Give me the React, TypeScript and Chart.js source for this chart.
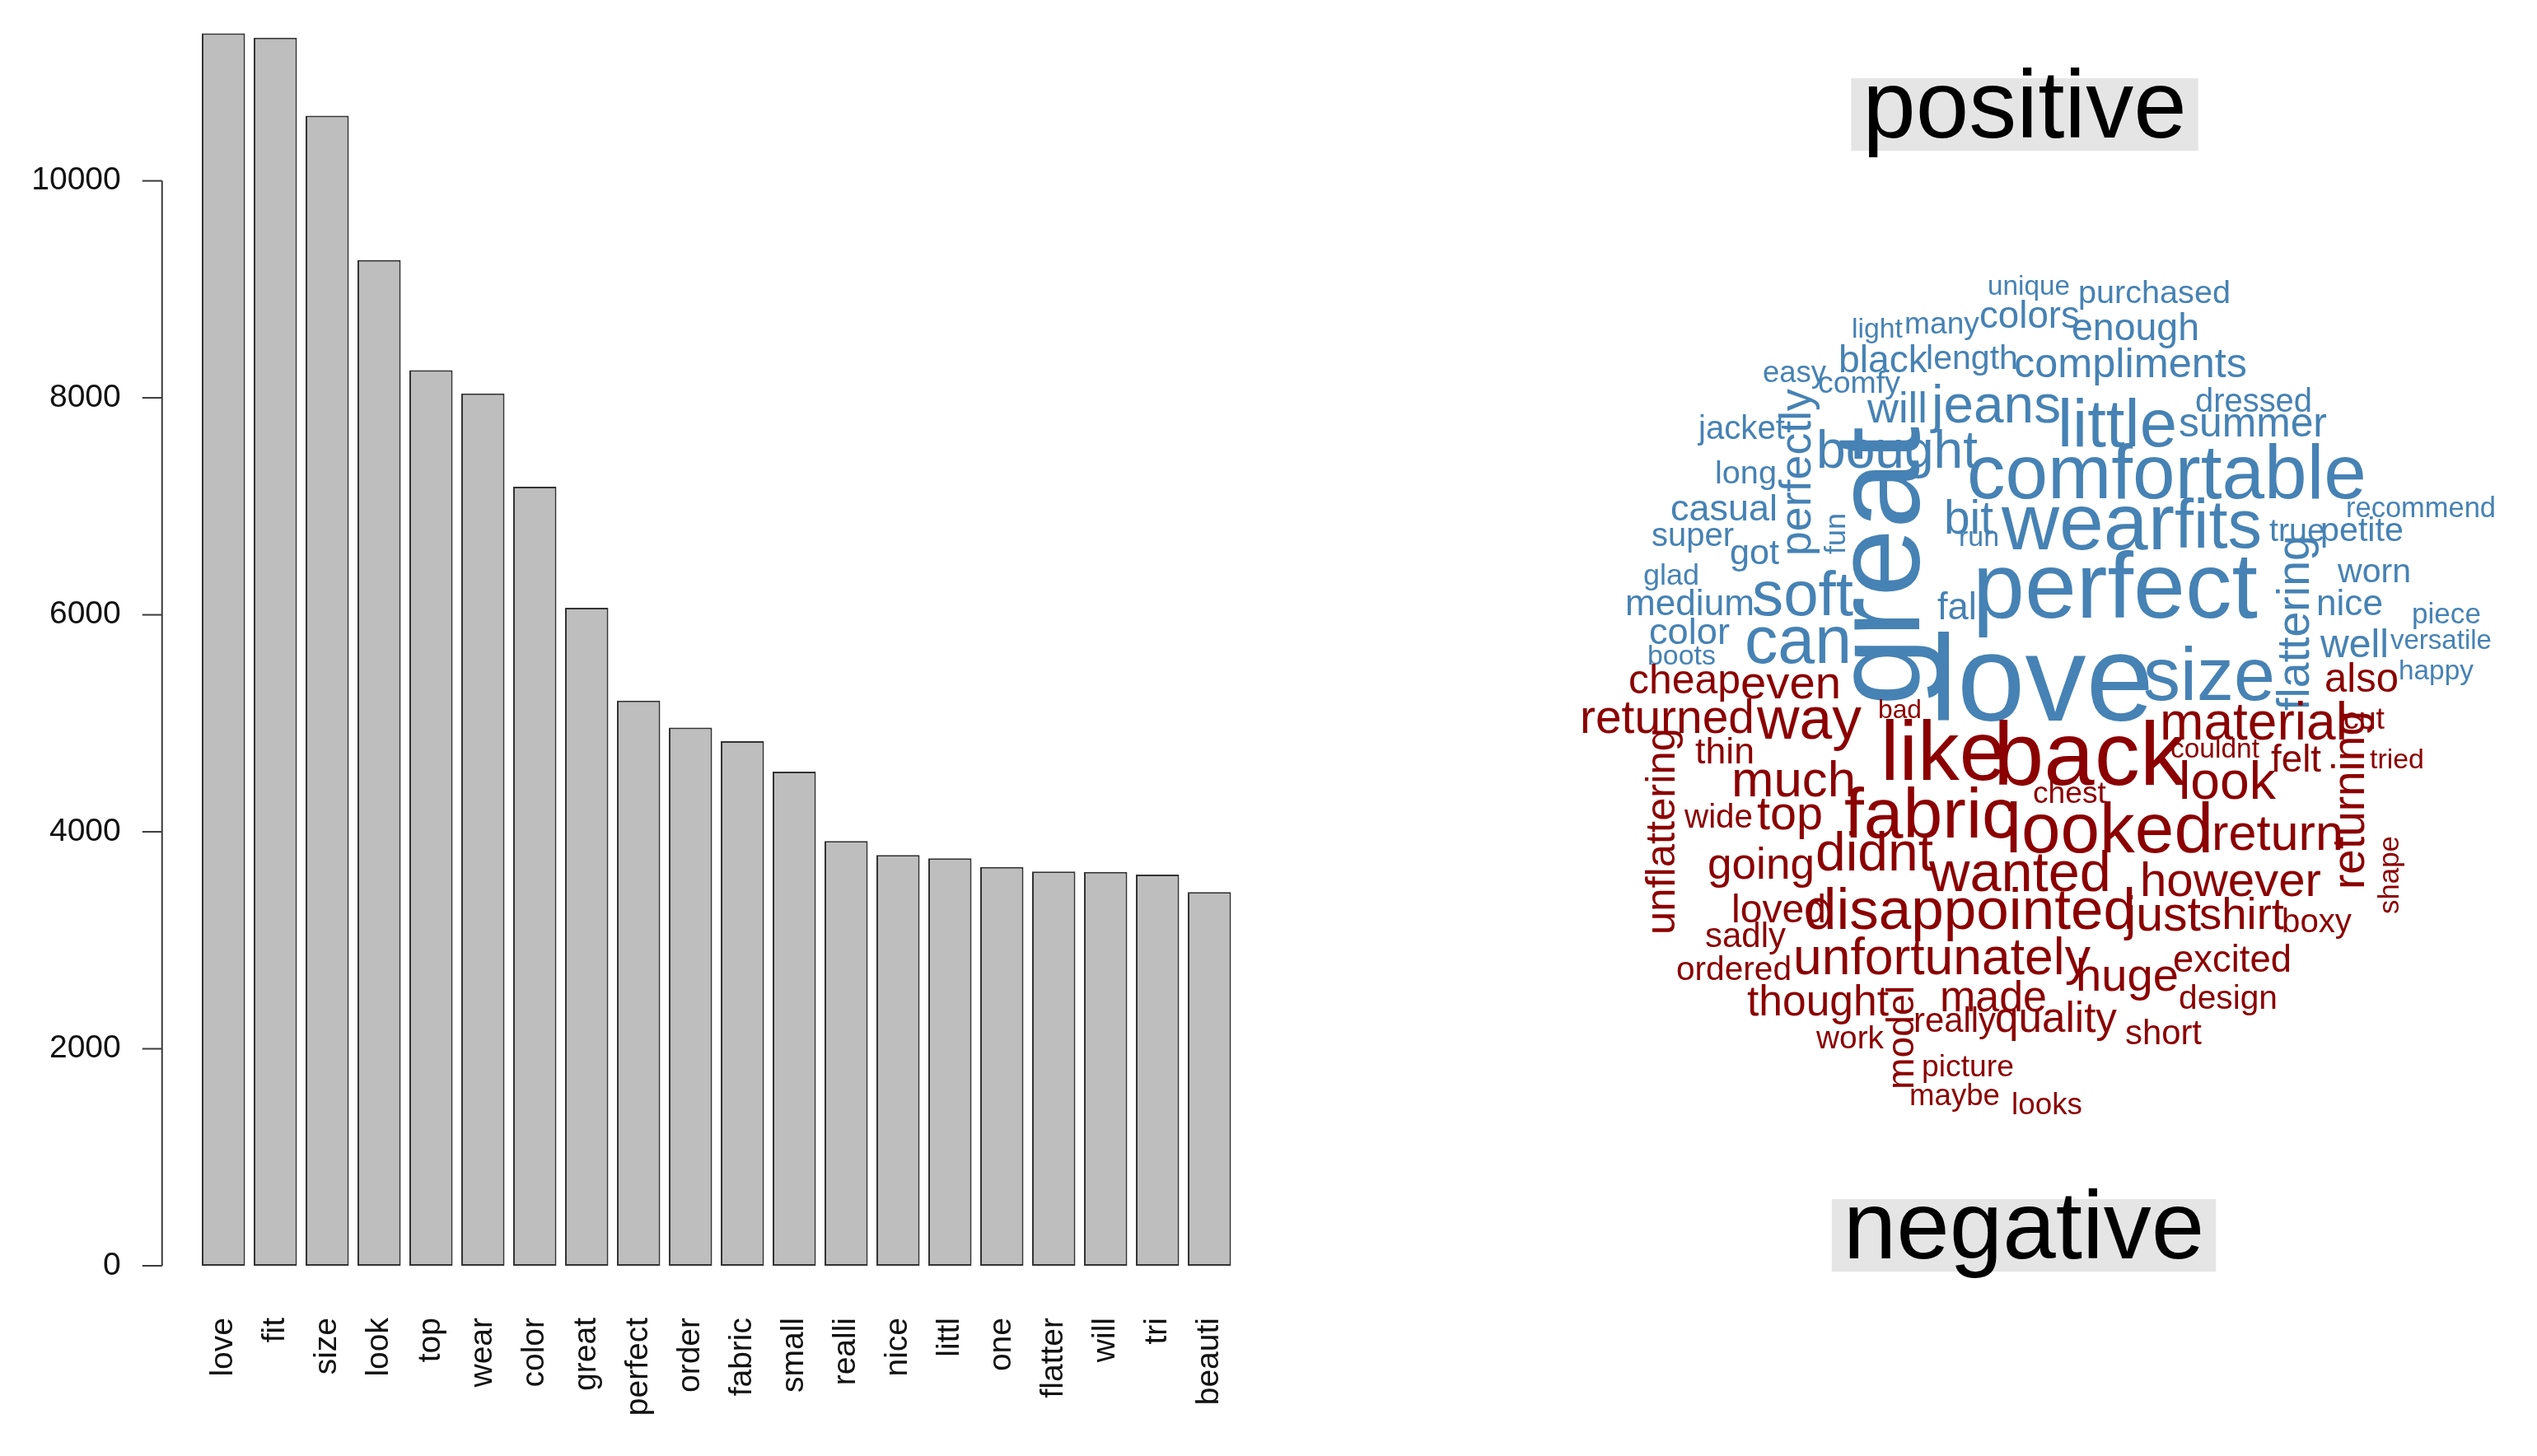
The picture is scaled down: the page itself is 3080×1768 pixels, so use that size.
import React, { useEffect, useRef } from "react";
import { Chart, registerables } from "chart.js";
Chart.register(...registerables);

const FONT = '"Liberation Sans", Arial, Helvetica, sans-serif';

// ---------- bar chart data ----------
const categories = ["love", "fit", "size", "look", "top", "wear", "color", "great", "perfect", "order", "fabric", "small", "realli", "nice", "littl", "one", "flatter", "will", "tri", "beauti"];
const counts = [11360, 11320, 10600, 9270, 8255, 8040, 7180, 6065, 5210, 4960, 4835, 4555, 3915, 3785, 3755, 3675, 3635, 3630, 3605, 3445];
const yTicks = [0, 2000, 4000, 6000, 8000, 10000];

// ---------- comparison word cloud data (cloud coordinate space) ----------
const posWords = ["unique", "purchased", "light", "many", "colors", "enough", "easy", "black", "length", "compliments", "comfy", "dressed", "jacket", "will", "jeans", "little", "summer", "bought", "long", "perfectly", "comfortable", "recommend", "casual", "bit", "wear", "fits", "true", "petite", "super", "got", "fun", "run", "flattering", "glad", "soft", "fall", "perfect", "worn", "medium", "nice", "color", "piece", "boots", "can", "great", "love", "size", "well", "versatile", "happy"];
const posX = [2413, 2523, 2248, 2312, 2403, 2515, 2140, 2232, 2338, 2445, 2207, 2665, 2062, 2267, 2345, 2498, 2645, 2205, 2082, 2198, 2388, 2848, 2028, 2360, 2430, 2640, 2755, 2817, 2005, 2100, 2240, 2378, 2803, 1995, 2127, 2352, 2395, 2838, 1973, 2812, 2002, 2928, 2000, 2118, 2330, 2343, 2602, 2817, 2902, 2912];
const posY = [358, 368, 410, 405, 398, 413, 464, 452, 448, 458, 477, 500, 533, 513, 513, 542, 530, 568, 587, 675, 605, 628, 632, 648, 667, 665, 657, 657, 663, 685, 673, 663, 863, 710, 747, 752, 750, 707, 747, 747, 782, 757, 807, 805, 857, 875, 850, 798, 788, 825];
const posSpan = [100, 185, 62, 91, 122, 155, 77, 108, 112, 283, 100, 142, 105, 73, 157, 145, 180, 196, 75, 203, 485, 182, 130, 60, 210, 106, 68, 101, 100, 60, 50, 49, 213, 68, 123, 58, 346, 89, 157, 81, 98, 84, 83, 130, 339, 272, 160, 83, 123, 91];
const posRot = [0, 0, 0, 0, 0, 0, 0, 0, 0, 0, 0, 0, 0, 0, 0, 0, 0, 0, 0, 1, 0, 0, 0, 0, 0, 0, 0, 0, 0, 0, 1, 0, 1, 0, 0, 0, 0, 0, 0, 0, 0, 0, 0, 0, 1, 0, 0, 0, 0, 0];

const negWords = ["cheap", "even", "also", "returned", "way", "bad", "material", "cut", "thin", "like", "back", "couldnt", "felt", "tried", "much", "chest", "look", "unflattering", "wide", "top", "fabric", "looked", "return", "returning", "going", "didnt", "wanted", "however", "shape", "loved", "disappointed", "just", "shirt", "boxy", "sadly", "unfortunately", "excited", "ordered", "huge", "thought", "model", "made", "design", "work", "really", "quality", "short", "picture", "maybe", "looks"];
const negX = [1977, 2113, 2822, 1918, 2133, 2280, 2622, 2845, 2058, 2283, 2420, 2635, 2757, 2877, 2102, 2468, 2645, 2033, 2045, 2133, 2239, 2435, 2685, 2870, 2073, 2204, 2342, 2598, 2912, 2102, 2190, 2580, 2670, 2770, 2070, 2177, 2638, 2035, 2520, 2121, 2323, 2355, 2645, 2205, 2323, 2422, 2580, 2333, 2318, 2442];
const negY = [842, 848, 840, 890, 897, 872, 898, 885, 927, 947, 953, 920, 937, 933, 967, 975, 970, 1135, 1005, 1007, 1017, 1035, 1032, 1080, 1067, 1057, 1082, 1088, 1110, 1120, 1128, 1130, 1128, 1132, 1150, 1183, 1180, 1190, 1203, 1233, 1323, 1228, 1225, 1273, 1253, 1253, 1268, 1307, 1342, 1353];
const negSpan = [136, 122, 90, 212, 127, 53, 228, 50, 72, 152, 233, 108, 61, 66, 151, 89, 118, 251, 83, 80, 210, 252, 160, 217, 130, 143, 221, 220, 95, 115, 403, 92, 103, 85, 98, 361, 144, 140, 125, 172, 126, 130, 120, 82, 100, 148, 93, 112, 110, 86];
const negRot = [0, 0, 0, 0, 0, 0, 0, 0, 0, 0, 0, 0, 0, 0, 0, 0, 0, 1, 0, 0, 0, 0, 0, 1, 0, 0, 0, 0, 1, 0, 0, 0, 0, 0, 0, 0, 0, 0, 0, 0, 1, 0, 0, 0, 0, 0, 0, 0, 0, 0];

const titleWords = ["positive", "negative"];
const titleX = [2458, 2457];
const titleY = [167, 1528];
const titleSize = [116, 116];

const POS_COLOR = "#4682B4";
const NEG_COLOR = "#8B0000";

function BarChart() {
  const ref = useRef<HTMLCanvasElement>(null);
  useEffect(() => {
    const axisPlugin = {
      id: "baseAxis",
      afterDraw(chart: any) {
        const { ctx, chartArea, scales } = chart;
        const y = scales.y;
        const ax = chartArea.left - 43;
        ctx.save();
        ctx.strokeStyle = "#3a3a3a";
        ctx.lineWidth = 2;
        ctx.beginPath();
        ctx.moveTo(ax, y.getPixelForValue(yTicks[0]));
        ctx.lineTo(ax, y.getPixelForValue(yTicks[yTicks.length - 1]));
        ctx.stroke();
        ctx.font = `39px ${FONT}`;
        ctx.fillStyle = "#111";
        ctx.textAlign = "right";
        ctx.textBaseline = "middle";
        for (const v of yTicks) {
          const py = y.getPixelForValue(v);
          ctx.beginPath();
          ctx.moveTo(ax - 24, py);
          ctx.lineTo(ax, py);
          ctx.stroke();
          ctx.fillText(String(v), ax - 50, py);
        }
        ctx.restore();
      },
    };
    const chart = new Chart(ref.current as HTMLCanvasElement, {
      type: "bar",
      data: {
        labels: categories,
        datasets: [
          {
            data: counts,
            backgroundColor: "#BEBEBE",
            borderColor: "#333333",
            borderWidth: 2,
            borderSkipped: false,
            barPercentage: 0.8333,
            categoryPercentage: 1,
          },
        ],
      },
      options: {
        animation: false,
        responsive: false,
        maintainAspectRatio: false,
        layout: { padding: { left: 239.75, right: 100.25, top: 22, bottom: 0 } },
        plugins: { legend: { display: false }, tooltip: { enabled: false } },
        scales: {
          x: {
            grid: { display: false, drawTicks: false },
            border: { display: false },
            ticks: {
              minRotation: 90,
              maxRotation: 90,
              autoSkip: false,
              padding: 63,
              color: "#111",
              font: { family: FONT, size: 39 },
            },
            afterFit: (s: any) => {
              s.height = 231;
            },
          },
          y: { display: false, min: 0, max: 11500 },
        },
      },
      plugins: [axisPlugin],
    } as any);
    return () => chart.destroy();
  }, []);
  return (
    <canvas
      ref={ref}
      width={1600}
      height={1768}
      style={{ position: "absolute", left: 0, top: 0, width: "1600px", height: "1768px" }}
    />
  );
}

function WordCloud() {
  const ref = useRef<HTMLCanvasElement>(null);
  useEffect(() => {
    const groups = [
      { words: posWords, span: posSpan, rot: posRot, color: POS_COLOR },
      { words: negWords, span: negSpan, rot: negRot, color: NEG_COLOR },
    ];
    const cloudPlugin = {
      id: "cloudText",
      afterDatasetsDraw(chart: any) {
        const ctx = chart.ctx as CanvasRenderingContext2D;
        groups.forEach((g, di) => {
          const meta = chart.getDatasetMeta(di);
          meta.data.forEach((pt: any, j: number) => {
            const w = g.words[j];
            ctx.save();
            ctx.font = `100px ${FONT}`;
            const w100 = ctx.measureText(w).width;
            const size = (g.span[j] / w100) * 100;
            ctx.font = `${size}px ${FONT}`;
            ctx.fillStyle = g.color;
            ctx.textAlign = "left";
            ctx.textBaseline = "alphabetic";
            ctx.translate(pt.x, pt.y);
            if (g.rot[j]) ctx.rotate(-Math.PI / 2);
            ctx.fillText(w, 0, 0);
            ctx.restore();
          });
        });
        const tmeta = chart.getDatasetMeta(2);
        tmeta.data.forEach((pt: any, j: number) => {
          const size = titleSize[j];
          ctx.save();
          ctx.font = `${size}px ${FONT}`;
          const tw = ctx.measureText(titleWords[j]).width;
          const pad = 14;
          ctx.fillStyle = "#E5E5E5";
          ctx.fillRect(pt.x - tw / 2 - pad, pt.y - 0.62 * size, tw + 2 * pad, 0.76 * size);
          ctx.fillStyle = "#000";
          ctx.textAlign = "center";
          ctx.textBaseline = "alphabetic";
          ctx.fillText(titleWords[j], pt.x, pt.y);
          ctx.restore();
        });
      },
    };
    const chart = new Chart(ref.current as HTMLCanvasElement, {
      type: "scatter",
      data: {
        datasets: [
          { data: posX.map((x, i) => ({ x, y: posY[i] })), pointRadius: 0 },
          { data: negX.map((x, i) => ({ x, y: negY[i] })), pointRadius: 0 },
          { data: titleX.map((x, i) => ({ x, y: titleY[i] })), pointRadius: 0 },
        ],
      },
      options: {
        animation: false,
        responsive: false,
        maintainAspectRatio: false,
        layout: { padding: 0 },
        plugins: { legend: { display: false }, tooltip: { enabled: false } },
        scales: {
          x: { type: "linear", display: false, min: 1900, max: 3080 },
          y: { type: "linear", display: false, min: 0, max: 1768, reverse: true },
        },
      },
      plugins: [cloudPlugin],
    } as any);
    return () => chart.destroy();
  }, []);
  return (
    <canvas
      ref={ref}
      width={1180}
      height={1768}
      style={{ position: "absolute", left: "1900px", top: 0, width: "1180px", height: "1768px" }}
    />
  );
}

export default function App() {
  return (
    <div style={{ position: "fixed", left: 0, top: 0, width: "3080px", height: "1768px", overflow: "hidden", background: "#fff" }}>
      <BarChart />
      <WordCloud />
    </div>
  );
}
